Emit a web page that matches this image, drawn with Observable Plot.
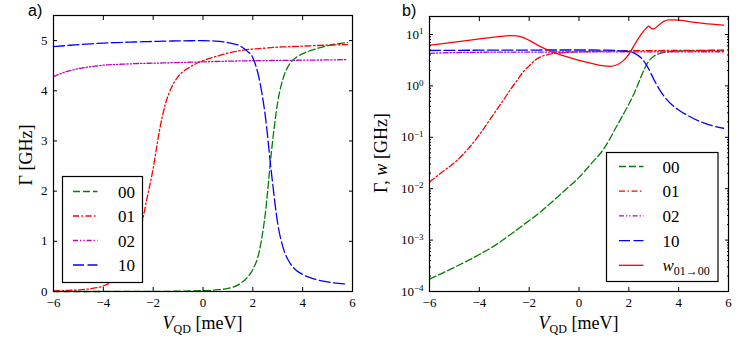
<!DOCTYPE html>
<html><head><meta charset="utf-8">
<script src="https://cdn.jsdelivr.net/npm/d3@7"></script>
<script src="https://cdn.jsdelivr.net/npm/@observablehq/plot@0.6"></script>
<style>
body{margin:0;background:#fff}
#fig{position:relative;width:747px;height:352px;background:#fff}
#fig svg{position:absolute;top:0}
#fig svg text:not(.sans){font-family:'Liberation Serif','DejaVu Serif',serif}
#fig svg text.sans{font-family:'Liberation Sans',Arial,sans-serif}
</style></head><body><div id="fig"></div>
<script>
// ---- data ----
const vQD = [-6, -5.5, -5, -4.5, -4, -3.5, -3, -2.75, -2.5, -2.25, -2, -1.75, -1.5, -1.25, -1, -0.5, 0, 0.5, 1, 1.5, 1.75, 2, 2.25, 2.5, 2.75, 3, 3.25, 3.5, 3.75, 4, 4.5, 5, 5.8];
const gamma00 = [1.74e-4, 2.26e-4, 2.95e-4, 3.9e-4, 5.25e-4, 7.2e-4, 1.05e-3, 1.29e-3, 1.58e-3, 1.95e-3, 2.4e-3, 2.95e-3, 3.7e-3, 4.7e-3, 6.0e-3, 0.010, 0.0166, 0.031, 0.060, 0.16, 0.265, 0.44, 0.78, 1.55, 2.8, 3.78, 4.3, 4.55, 4.67, 4.74, 4.83, 4.9, 4.96];
const gamma01 = [0.0135, 0.021, 0.032, 0.056, 0.112, 0.25, 0.56, 0.85, 1.25, 1.85, 2.45, 3.2, 3.75, 4.08, 4.28, 4.48, 4.6, 4.68, 4.75, 4.8, 4.82, 4.83, 4.84, 4.85, 4.86, 4.87, 4.875, 4.88, 4.885, 4.89, 4.9, 4.91, 4.92];
const gamma02 = [4.28, 4.38, 4.44, 4.48, 4.51, 4.525, 4.535, 4.54, 4.545, 4.548, 4.55, 4.553, 4.556, 4.56, 4.563, 4.57, 4.575, 4.583, 4.59, 4.595, 4.597, 4.6, 4.601, 4.602, 4.603, 4.605, 4.606, 4.607, 4.608, 4.61, 4.612, 4.615, 4.62];
const gamma10 = [4.88, 4.9, 4.92, 4.935, 4.95, 4.96, 4.968, 4.972, 4.976, 4.98, 4.983, 4.986, 4.99, 4.992, 4.994, 4.997, 4.998, 4.99, 4.96, 4.89, 4.8, 4.66, 4.25, 3.5, 2.35, 1.35, 0.82, 0.56, 0.42, 0.34, 0.245, 0.19, 0.15];
const wV = [-6, -5, -4, -3.5, -3, -2.75, -2.5, -2.25, -2, -1.75, -1.5, -1.25, -1, -0.5, 0, 0.5, 1, 1.25, 1.5, 1.75, 2, 2.25, 2.5, 2.7, 2.8, 2.9, 3.0, 3.2, 3.4, 3.6, 3.8, 4, 4.5, 5, 5.8];
const w0100 = [6.2, 7.1, 8.2, 8.8, 9.3, 9.5, 9.4, 8.8, 7.7, 6.6, 5.7, 5.0, 4.45, 3.7, 3.15, 2.75, 2.45, 2.4, 2.55, 3.0, 4.1, 6.6, 10.2, 13.3, 14.5, 13.2, 12.9, 15.2, 18.0, 19.3, 19.3, 19.0, 17.6, 16.5, 15.2];
const xTicks = [-6, -4, -2, 0, 2, 4, 6];
const yTicksLin = [0, 1, 2, 3, 4, 5];
const yTicksLog = [1e-4, 1e-3, 1e-2, 1e-1, 1, 10];
const legendLabels = ["00", "01", "02", "10"];

// ---- styles ----
const serif = "'Liberation Serif', 'DejaVu Serif', serif";
const series = [
  {label: legendLabels[0], values: gamma00, color: "#008000", dash: "7,3"},
  {label: legendLabels[1], values: gamma01, color: "#ff0000", dash: "6,2.5,1.5,2.5"},
  {label: legendLabels[2], values: gamma02, color: "#bf00bf", dash: "5,2,1.3,2,1.3,2"},
  {label: legendLabels[3], values: gamma10, color: "#0000ff", dash: "11,3.5"}
];
const wSeries = {label: "w", color: "#ff0000", dash: null};

function seriesLines() {
  return series.map(s => Plot.line(vQD.map((v, i) => ({v, g: s.values[i]})), {
    x: "v", y: "g", stroke: s.color, strokeDasharray: s.dash, strokeWidth: 1.3, curve: "monotone-x"
  }));
}

const minorLog = [];
for (let e = -4; e <= 1; e++) for (let k = 2; k <= 9; k++) { const t = k * Math.pow(10, e); if (t < 22.4) minorLog.push(t); }

const baseStyle = {fontFamily: serif, fontSize: "13px", color: "#000", background: "transparent"};
const none = () => "";
const ax = {fontFamily: serif, fontSize: 13, label: null};

// ---- left panel ----
const left = Plot.plot({
  width: 370, height: 352, marginLeft: 53, marginRight: 18, marginTop: 15, marginBottom: 61,
  style: baseStyle,
  x: {domain: [-6, 6]},
  y: {domain: [0, 5.5]},
  marks: [
    ...seriesLines(),
    Plot.frame({stroke: "#000", strokeWidth: 1.2}),
    Plot.axisX({...ax, ticks: xTicks, tickSize: 0, tickPadding: 6}),
    Plot.axisX({...ax, ticks: xTicks, tickSize: -4, tickFormat: none}),
    Plot.axisX({...ax, anchor: "top", ticks: xTicks, tickSize: -4, tickFormat: none}),
    Plot.axisY({...ax, ticks: yTicksLin, tickSize: 0, tickPadding: 6, tickFormat: d => String(d)}),
    Plot.axisY({...ax, ticks: yTicksLin, tickSize: -4, tickFormat: none}),
    Plot.axisY({...ax, anchor: "right", ticks: yTicksLin, tickSize: -4, tickFormat: none})
  ]
});

// ---- right panel ----
const right = Plot.plot({
  width: 377, height: 352, marginLeft: 59, marginRight: 19, marginTop: 16, marginBottom: 61,
  style: baseStyle,
  x: {domain: [-6, 6]},
  y: {type: "log", domain: [1e-4, 22.4]},
  marks: [
    ...seriesLines(),
    Plot.line(wV.map((v, i) => ({v, g: w0100[i]})), {x: "v", y: "g", stroke: wSeries.color, strokeWidth: 1.3, curve: "monotone-x"}),
    Plot.frame({stroke: "#000", strokeWidth: 1.2}),
    Plot.axisX({...ax, ticks: xTicks, tickSize: 0, tickPadding: 6}),
    Plot.axisX({...ax, ticks: xTicks, tickSize: -4, tickFormat: none}),
    Plot.axisX({...ax, anchor: "top", ticks: xTicks, tickSize: -4, tickFormat: none}),
    Plot.axisY({...ax, ticks: yTicksLog, tickSize: 0, tickPadding: 6, tickFormat: d => "10^" + Math.round(Math.log10(d))}),
    Plot.axisY({...ax, ticks: yTicksLog, tickSize: -4, tickFormat: none}),
    Plot.axisY({...ax, anchor: "right", ticks: yTicksLog, tickSize: -4, tickFormat: none}),
    Plot.axisY({...ax, ticks: minorLog, tickSize: -2, tickFormat: none}),
    Plot.axisY({...ax, anchor: "right", ticks: minorLog, tickSize: -2, tickFormat: none})
  ]
});

const fig = document.getElementById("fig");
left.style.left = "0px";
right.style.left = "370px";
fig.appendChild(left);
fig.appendChild(right);

// superscript exponents on the log axis
d3.select(right).selectAll("text").each(function () {
  const s = this.textContent;
  if (!s.startsWith("10^")) return;
  const e = s.slice(3).replace("-", "\u2212");
  const sel = d3.select(this);
  sel.text("10");
  sel.append("tspan").attr("dy", "-0.5em").attr("font-size", "9px").text(e);
});

// axis labels, panel letters, legends
function xLabel(svg, cx) {
  const t = d3.select(svg).append("text").attr("x", cx).attr("y", 329).attr("text-anchor", "middle")
    .attr("font-size", "18px").attr("fill", "#000");
  t.append("tspan").attr("font-style", "italic").text("V");
  t.append("tspan").attr("font-size", "12px").attr("dy", "4").text("QD");
  t.append("tspan").attr("dy", "-4").text(" [meV]");
}
function yLabel(svg, x, cy, withW) {
  const t = d3.select(svg).append("text").attr("transform", `translate(${x},${cy}) rotate(-90)`).attr("text-anchor", "middle")
    .attr("font-size", "18px").attr("fill", "#000");
  if (withW) {
    t.append("tspan").text("\u0393, ");
    t.append("tspan").attr("font-style", "italic").text("w");
    t.append("tspan").text(" [GHz]");
  } else {
    t.append("tspan").text("\u0393 [GHz]");
  }
}
function panelLetter(svg, x, s) {
  d3.select(svg).append("text").attr("class", "sans").attr("x", x).attr("y", 16).attr("text-anchor", "start")
    .attr("font-size", "16px").attr("fill", "#000").text(s);
}
function legend(svg, box, rows) {
  const g = d3.select(svg).append("g");
  g.append("rect").attr("x", box.x).attr("y", box.y).attr("width", box.w).attr("height", box.h)
    .attr("fill", "#fff").attr("stroke", "#000").attr("stroke-width", 1.2);
  rows.forEach((r, i) => {
    const yy = box.row0 + i * box.dy;
    g.append("line").attr("x1", box.l0).attr("x2", box.l1).attr("y1", yy).attr("y2", yy)
      .attr("stroke", r.color).attr("stroke-width", 1.3).attr("stroke-dasharray", r.dash);
    const t = g.append("text").attr("x", box.tx).attr("y", yy + 6).attr("text-anchor", "start")
      .attr("font-size", "17px").attr("fill", "#000");
    if (r.label === "w") {
      t.append("tspan").attr("font-style", "italic").text("w");
      t.append("tspan").attr("font-size", "12px").attr("dy", "4").text("01\u219200");
    } else t.text(r.label);
  });
}

xLabel(left, 202.5);
xLabel(right, 208.5);
yLabel(left, 32, 155, false);
yLabel(right, 17, 153, true);
panelLetter(left, 28, "a)");
panelLetter(right, 32, "b)");
legend(left, {x: 62.5, y: 176.5, w: 80, h: 106, row0: 191.5, dy: 24.5, l0: 73, l1: 97.5, tx: 118}, series);
legend(right, {x: 236.5, y: 152.5, w: 111.5, h: 129, row0: 166.5, dy: 24.7, l0: 249, l1: 273.5, tx: 292.5}, [...series, wSeries]);
</script></body></html>
